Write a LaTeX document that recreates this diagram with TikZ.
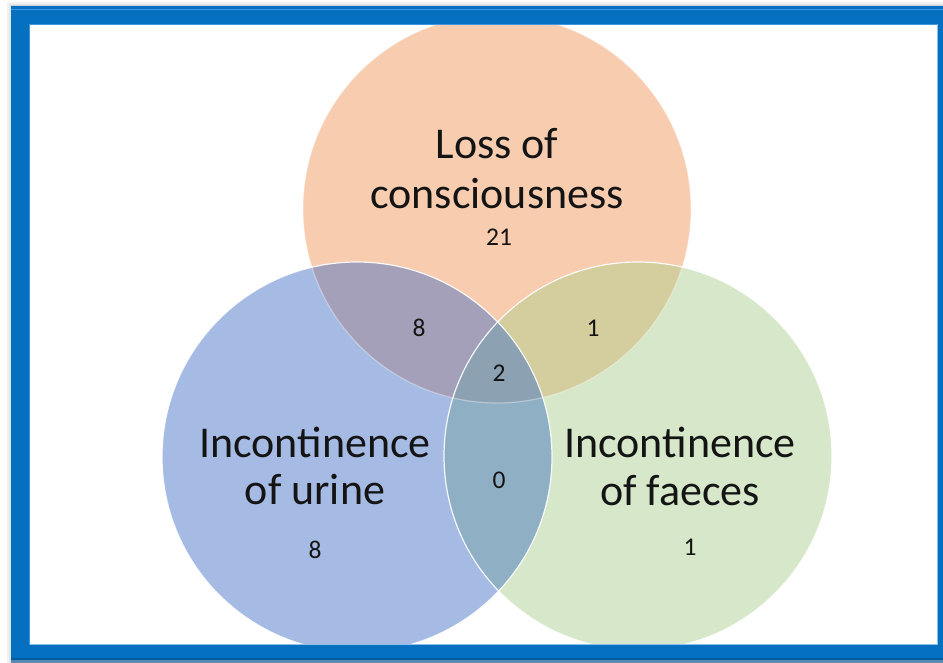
\documentclass[tikz,border=0pt]{standalone}
\usepackage{fontspec}
\setmainfont{Carlito}
\definecolor{frameblue}{RGB}{6,112,192}
\definecolor{framelight}{RGB}{60,150,225}
\definecolor{framedark}{RGB}{4,80,145}
\definecolor{cO}{RGB}{248,204,175}
\definecolor{cB}{RGB}{165,187,228}
\definecolor{cG}{RGB}{214,232,201}
\definecolor{cOB}{RGB}{165,160,186}
\definecolor{cOG}{RGB}{212,205,158}
\definecolor{cBG}{RGB}{143,175,196}
\definecolor{cOBG}{RGB}{140,162,178}
\begin{document}
\begin{tikzpicture}[x=1pt,y=-1pt,
  bigtxt/.style={anchor=base,inner sep=0pt,font=\fontsize{44}{48}\selectfont,text=black!92},
  numtxt/.style={anchor=center,inner sep=0pt,font=\fontsize{25.5}{28}\selectfont,text=black!92},
  outline/.style={draw=white,line width=1.2pt}]
\useasboundingbox (0,0) rectangle (943,663);
\fill[white] (0,0) rectangle (943,663);
% shadow of frame
\fill[black,opacity=0.05] (7,2) rectangle (943,663);
\fill[black,opacity=0.05] (9,4) rectangle (943,663);
\fill[white] (29,24) rectangle (938,645);
\coordinate (O) at (497,209);
\coordinate (B) at (357,457);
\coordinate (G) at (638,456);
% single regions
\fill[cO] (O) circle[radius=194pt];
\fill[cB] (B) circle[radius=195pt];
\fill[cG] (G) circle[radius=194pt];
% pairwise overlaps
\begin{scope}
  \clip (O) circle[radius=194pt];
  \fill[cOB] (B) circle[radius=195pt];
  \fill[cOG] (G) circle[radius=194pt];
\end{scope}
\begin{scope}
  \clip (B) circle[radius=195pt];
  \fill[cBG] (G) circle[radius=194pt];
  \begin{scope}
    \clip (O) circle[radius=194pt];
    \fill[cOBG] (G) circle[radius=194pt];
  \end{scope}
\end{scope}
% outlines
\draw[outline,draw opacity=0.35] (O) circle[radius=194pt];
\draw[outline,draw opacity=0.9] (B) circle[radius=195pt];
\draw[outline,draw opacity=0.9] (G) circle[radius=194pt];
% labels
\node[bigtxt] (o1) at (497,159) {Loss of};
\node[bigtxt] (o2) at (497,209) {consciousness};
\node[bigtxt] (b1) at (315,457) {Incontinence};
\node[bigtxt] (b2) at (315,504) {of urine};
\node[bigtxt] (g1) at (680,457) {Incontinence};
\node[bigtxt] (g2) at (680,505) {of faeces};
\node[numtxt] (nO) at (499,237) {21};
\node[numtxt] (nOB) at (419,328) {8};
\node[numtxt] (nOG) at (593,328) {1};
\node[numtxt] (nOBG) at (499,373) {2};
\node[numtxt] (nBG) at (499,480) {0};
\node[numtxt] (nB) at (315,550) {8};
\node[numtxt] (nG) at (690,547) {1};
% frame
\fill[frameblue,even odd rule] (11,6) rectangle (943,660) (29,24) rectangle (938,645);
\fill[framelight] (11,9) rectangle (943,10.5);
\fill[framedark,opacity=0.6] (11,658) rectangle (943,663);
\draw[framelight,line width=1pt] (29.5,645) -- (29.5,24.5) -- (938,24.5);
\draw[framelight!60!white,line width=1pt] (29.5,644.5) -- (937.5,644.5) -- (937.5,24.5);
\end{tikzpicture}
\end{document}
